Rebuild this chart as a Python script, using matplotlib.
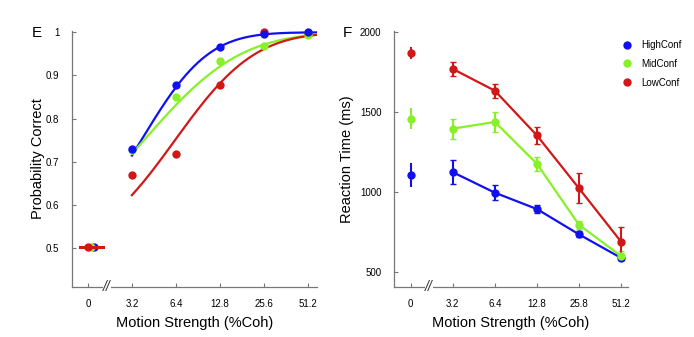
import math
import numpy as np
import matplotlib
matplotlib.use("Agg")
import matplotlib.pyplot as plt
import matplotlib.transforms as mtransforms

plt.rcParams['font.family'] = ['Liberation Sans', 'DejaVu Sans']

# coherence levels, plotted at equal spacing (0 sits left of the axis break)
coh_labels_E = ['0', '3.2', '6.4', '12.8', '25.6', '51.2']
coh_labels_F = ['0', '3.2', '6.4', '12.8', '25.8', '51.2']
coh = [3.2, 6.4, 12.8, 25.6, 51.2]

groups = ['HighConf', 'MidConf', 'LowConf']
colors = ['#1010f0', '#88f028', '#d01818']

# accuracy per confidence level (0% coh, then 3.2 ... 51.2)
pc_zero = [0.503, 0.503, 0.503]
pc_high = [0.730, 0.877, 0.967, 0.995, 1.000]
pc_mid = [0.727, 0.851, 0.934, 0.968, 0.993]
pc_low = [0.669, 0.718, 0.879, 1.000, 0.998]

# cumulative-gaussian fit in log2(coherence): threshold (%coh) and width (octaves)
fit_thresh = [3.71, 3.87, 6.30]
fit_width = [1.19, 1.72, 1.42]

# reaction times (ms) and error bars
rt_zero = [1107, 1458, 1866]
rt_zero_err = [75, 68, 38]
rt_high = [1123, 995, 893, 735, 588]
rt_high_err = [75, 48, 25, 18, 15]
rt_mid = [1395, 1437, 1176, 795, 600]
rt_mid_err = [62, 65, 45, 25, 28]
rt_low = [1768, 1632, 1353, 1023, 690]
rt_low_err = [43, 43, 55, 95, 92]

pc = [pc_high, pc_mid, pc_low]
rt = [rt_high, rt_mid, rt_low]
rt_err = [rt_high_err, rt_mid_err, rt_low_err]

erf = np.vectorize(math.erf)


def psychometric(c, thresh, width):
    z = (np.log2(c) - np.log2(thresh)) / width
    return 0.5 + 0.5 * 0.5 * (1 + erf(z / np.sqrt(2)))


def style_axes(ax, labels):
    for s in ['top', 'right']:
        ax.spines[s].set_visible(False)
    for s in ['left', 'bottom']:
        ax.spines[s].set_color('#777777')
        ax.spines[s].set_linewidth(0.9)
    ax.tick_params(direction='in', length=3, width=0.8, color='#777777',
                   labelsize=7, pad=9)
    ax.set_xticks(range(len(labels)))
    ax.set_xticklabels(labels)
    ax.set_xlabel('Motion Strength (%Coh)', fontsize=10.5, labelpad=5)
    # axis break between 0 and 3.2
    tr = mtransforms.blended_transform_factory(ax.transData, ax.transAxes)
    ax.text(0.43, 0.0, '//', transform=tr, ha='center', va='center',
            fontsize=10, style='italic', color='#333333',
            bbox=dict(facecolor='white', edgecolor='none', pad=0.2))


fig = plt.figure(figsize=(6.94, 3.37), dpi=100)
axE = fig.add_axes([0.1037, 0.1484, 0.3531, 0.7596])
axF = fig.add_axes([0.5677, 0.1484, 0.3373, 0.7596])

# --- E: probability correct ---
x_idx = np.arange(1, 6)
t = np.linspace(1, 5.2, 200)
c_fine = 3.2 * 2 ** (t - 1)
offsets = [0.14, 0.07, 0.0]
for i in range(3):
    axE.plot(t, psychometric(c_fine, fit_thresh[i], fit_width[i]),
             color=colors[i], lw=1.6, zorder=2)
# dots drawn low -> high so HighConf ends up on top
for i in [2, 1, 0]:
    axE.plot(x_idx, pc[i], 'o', color=colors[i], ms=6, mec='none', zorder=3,
             clip_on=False)
for i in range(3):
    axE.plot(offsets[i], pc_zero[i], 'o', color=colors[i], ms=6, mec='none', zorder=3)
axE.plot([-0.18, 0.34], [pc_zero[2], pc_zero[2]], color=colors[2], lw=2.2, zorder=4)

axE.set_xlim(-0.36, 5.2)
axE.set_ylim(0.41, 1.003)
axE.set_yticks([0.5, 0.6, 0.7, 0.8, 0.9, 1.0])
axE.set_yticklabels(['0.5', '0.6', '0.7', '0.8', '0.9', '1'])
axE.set_ylabel('Probability Correct', fontsize=10.5, labelpad=1)
style_axes(axE, coh_labels_E)

# --- F: reaction time ---
for i in range(3):
    axF.errorbar(0, rt_zero[i], yerr=rt_zero_err[i], fmt='o', color=colors[i],
                 ms=6, mec='none', elinewidth=1.5, capsize=0)
    axF.errorbar(x_idx, rt[i], yerr=rt_err[i], fmt='-o', color=colors[i],
                 ms=6, mec='none', lw=1.6, elinewidth=1.5, capsize=2,
                 capthick=1.0, label=groups[i])

axF.set_xlim(-0.4, 5.17)
axF.set_ylim(406, 2005)
axF.set_yticks([500, 1000, 1500, 2000])
axF.set_ylabel('Reaction Time (ms)', fontsize=10.5, labelpad=4)
style_axes(axF, coh_labels_F)

handles = [plt.Line2D([], [], marker='o', ls='none', color=colors[i], ms=6, mec='none')
           for i in range(3)]
axF.legend(handles, groups, loc='upper left', bbox_to_anchor=(0.96, 0.98),
           frameon=False, fontsize=7, handlelength=1.0, handletextpad=0.9,
           labelspacing=0.9, borderaxespad=0)

fig.text(32 / 694, 1 - 33 / 337, 'E', fontsize=11, ha='left', va='center')
fig.text(343 / 694, 1 - 33 / 337, 'F', fontsize=11, ha='left', va='center')

fig.savefig('out.png', dpi=100)
